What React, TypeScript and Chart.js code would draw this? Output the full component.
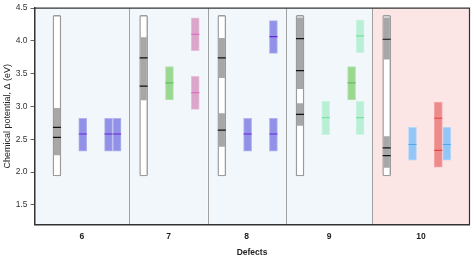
import React, { useEffect, useRef } from "react";
import { Chart, registerables } from "chart.js";

Chart.register(...registerables);

// ---------- data ----------
const defects = ["6", "7", "8", "9", "10"];
const panelFill = ["#f2f7fb", "#f2f7fb", "#f2f7fb", "#f2f7fb", "#fbe5e5"];

// full range bar (white, outlined) per defect
const rangeLow = [1.94, 1.94, 1.94, 1.94, 1.94];
const rangeHigh = [4.39, 4.39, 4.39, 4.39, 4.39];

// gray bands inside the range bar
const bandPanel = [0, 1, 2, 2, 3, 3, 4, 4];
const bandLow = [2.26, 3.1, 3.44, 2.39, 3.27, 2.71, 3.72, 2.07];
const bandHigh = [2.97, 4.05, 4.04, 2.89, 4.35, 3.045, 4.35, 2.54];

// black levels inside the range bar
const levelPanel = [0, 0, 1, 1, 2, 2, 3, 3, 3, 4, 4, 4];
const levelValue = [2.68, 2.53, 3.74, 3.31, 3.74, 2.64, 4.035, 3.545, 2.88, 4.025, 2.37, 2.25];

// coloured bars
const barPanel = [0, 0, 0, 1, 1, 1, 2, 2, 2, 3, 3, 3, 3, 4, 4, 4];
const barColumn = [1, 2, 2, 1, 2, 2, 1, 2, 2, 1, 2, 2, 2, 1, 2, 2];
const barShift = [0, 0, 1, 0, 0, 0, 0, 0, 0, 0, 0, 1, 1, 0, 0, 1];
const barLow = [2.32, 2.32, 2.32, 3.1, 3.85, 2.955, 2.32, 3.81, 2.32, 2.57, 3.1, 3.82, 2.57, 2.18, 2.075, 2.18];
const barHigh = [2.82, 2.82, 2.82, 3.61, 4.35, 3.46, 2.82, 4.31, 2.82, 3.08, 3.61, 4.32, 3.08, 2.68, 3.065, 2.68];
const barMarks = [
  [2.58], [2.58], [2.58],
  [3.36], [4.1], [3.21],
  [2.58], [4.065], [2.58],
  [2.83], [3.36], [4.075], [2.83],
  [2.42], [2.82, 2.33], [2.42],
];
const barKind = ["blue", "blue", "blue", "green", "pink", "pink", "blue", "blue", "blue", "mint", "green", "mint", "mint", "sky", "red", "sky"];

const yTicks = [1.5, 2.0, 2.5, 3.0, 3.5, 4.0, 4.5];
const Y_MIN = 1.2;
const Y_MAX = 4.5;

// ---------- styles / layout ----------
const palette: Record<string, { fill: string; edge: string; mark: string }> = {
  blue: { fill: "#9191e7", edge: "#b3b3ef", mark: "#6a25d9" },
  green: { fill: "#9ad891", edge: "#b6e4ae", mark: "#68c05c" },
  pink: { fill: "#dba6c9", edge: "#e6c0d9", mark: "#d970c4" },
  mint: { fill: "#b8efd5", edge: "#cdf3e2", mark: "#7be2a3" },
  sky: { fill: "#93c5f7", edge: "#b4d7f8", mark: "#55a6ea" },
  red: { fill: "#ee8a8a", edge: "#f2a6a6", mark: "#e8423f" },
};

const PAD_L = 0.32;
const PAD_R = 0.4;
const MARGIN_L = 0.55;
const MARGIN_R = 0.48;
const SHIFT = 0.33;

const panelHasShift = defects.map((_, p) => barPanel.some((bp, i) => bp === p && barShift[i] === 1));
const panelWidth = panelHasShift.map((s) => MARGIN_L + 2 + (s ? SHIFT : 0) + MARGIN_R);
const panelStart: number[] = [];
let acc = PAD_L;
panelWidth.forEach((w) => {
  panelStart.push(acc);
  acc += w;
});
const X_MAX = acc + PAD_R;
const panelRect = defects.map((_, p) => [
  p === 0 ? 0 : panelStart[p],
  p === defects.length - 1 ? X_MAX : panelStart[p] + panelWidth[p],
]);
const panelCenter = panelRect.map(([a, b]) => (a + b) / 2);
const colX = (p: number, col: number, shift: number) => panelStart[p] + MARGIN_L + col + shift * SHIFT;

const FONT = "'Liberation Sans', Arial, Helvetica, sans-serif";

const panelPlugin = {
  id: "panels",
  beforeDraw(chart: any) {
    const { ctx, chartArea: a, scales } = chart;
    const x = scales.x;
    ctx.save();
    panelRect.forEach(([s, e], p) => {
      const l = x.getPixelForValue(s);
      const r = x.getPixelForValue(e);
      ctx.fillStyle = panelFill[p];
      ctx.fillRect(l, a.top, r - l, a.bottom - a.top);
    });
    ctx.strokeStyle = "#a0a0a0";
    ctx.lineWidth = 1;
    for (let p = 1; p < panelRect.length; p++) {
      const xx = Math.round(x.getPixelForValue(panelRect[p][0])) + 0.5;
      ctx.beginPath();
      ctx.moveTo(xx, a.top);
      ctx.lineTo(xx, a.bottom);
      ctx.stroke();
    }
    ctx.restore();
  },
  afterDraw(chart: any) {
    const { ctx, chartArea: a } = chart;
    ctx.save();
    ctx.strokeStyle = "#333";
    ctx.lineWidth = 1.2;
    ctx.beginPath();
    ctx.moveTo(a.left, a.top);
    ctx.lineTo(a.right, a.top);
    ctx.lineTo(a.right, a.bottom);
    ctx.stroke();
    ctx.restore();
  },
};

export default function App() {
  const ref = useRef<HTMLCanvasElement | null>(null);

  useEffect(() => {
    if (!ref.current) return;
    Chart.defaults.font.family = FONT;

    const rangeData = defects.map((_, p) => ({ x: colX(p, 0, 0), y: [rangeLow[p], rangeHigh[p]] }));
    const bandData = bandPanel.map((p, i) => ({ x: colX(p, 0, 0), y: [bandLow[i], bandHigh[i]] }));
    const levelData = levelPanel.map((p, i) => ({ x: colX(p, 0, 0), y: levelValue[i] }));
    const barData = barPanel.map((p, i) => ({ x: colX(p, barColumn[i], barShift[i]), y: [barLow[i], barHigh[i]] }));
    const markData: { x: number; y: number }[] = [];
    const markColor: string[] = [];
    barMarks.forEach((ms, i) => {
      ms.forEach((m) => {
        markData.push({ x: colX(barPanel[i], barColumn[i], barShift[i]), y: m });
        markColor.push(palette[barKind[i]].mark);
      });
    });

    const chart = new Chart(ref.current, {
      type: "bar",
      data: {
        datasets: [
          {
            type: "scatter",
            data: levelData,
            order: 0,
            pointStyle: "line",
            pointRadius: 4,
            pointHoverRadius: 4,
            pointBorderWidth: 1.2,
            borderColor: "#111",
            pointBorderColor: "#111",
          } as any,
          {
            type: "scatter",
            data: markData,
            order: 0,
            pointStyle: "line",
            pointRadius: 4,
            pointHoverRadius: 4,
            pointBorderWidth: 1.2,
            borderColor: markColor,
            pointBorderColor: markColor,
          } as any,
          {
            type: "bar",
            data: bandData,
            order: 2,
            grouped: false,
            barThickness: 5.6,
            backgroundColor: "#a7a7a7",
            borderWidth: 0,
          } as any,
          {
            type: "bar",
            data: barData,
            order: 2,
            grouped: false,
            barThickness: 8,
            backgroundColor: barKind.map((k) => palette[k].fill),
            borderColor: barKind.map((k) => palette[k].edge),
            borderWidth: 1,
            borderSkipped: false,
          } as any,
          {
            type: "bar",
            data: rangeData,
            order: 3,
            grouped: false,
            barThickness: 8,
            backgroundColor: "#ffffff",
            borderColor: "#9b9b9b",
            borderWidth: 1.4,
            borderRadius: 1.5,
            borderSkipped: false,
          } as any,
        ],
      },
      options: {
        responsive: false,
        animation: false,
        events: [],
        layout: { padding: { top: 7, right: 6.5, left: 0, bottom: 0 } },
        plugins: { legend: { display: false }, tooltip: { enabled: false } },
        scales: {
          x: {
            type: "linear",
            min: 0,
            max: X_MAX,
            offset: false,
            afterBuildTicks: (s: any) => {
              s.ticks = panelCenter.map((v) => ({ value: v }));
            },
            afterFit: (s: any) => {
              s.height = 36.5;
            },
            ticks: {
              autoSkip: false,
              maxRotation: 0,
              padding: 7.5,
              color: "#222",
              font: { size: 8.5, weight: "bold" },
              callback: (_v: any, i: number) => defects[i],
            },
            grid: { display: false, drawTicks: false },
            border: { display: true, color: "#333", width: 1.5 },
            title: {
              display: true,
              text: "Defects",
              color: "#222",
              font: { size: 8.5, weight: "bold" },
              padding: { top: 0, bottom: 3.5 },
            },
          },
          y: {
            type: "linear",
            min: Y_MIN,
            max: Y_MAX,
            afterBuildTicks: (s: any) => {
              s.ticks = yTicks.map((v) => ({ value: v }));
            },
            afterFit: (s: any) => {
              s.width = 34.5;
            },
            ticks: {
              padding: 3,
              color: "#333",
              font: { size: 8.5 },
              callback: (v: any) => Number(v).toFixed(1),
            },
            grid: { drawOnChartArea: false, drawTicks: true, tickLength: 4, color: "#666" },
            border: { display: true, color: "#333", width: 1.5 },
            title: {
              display: true,
              text: "Chemical potential, Δ (eV)",
              color: "#222",
              font: { size: 9 },
              padding: { top: 2.5, bottom: 0 },
            },
          },
        },
      } as any,
      plugins: [panelPlugin],
    });

    return () => chart.destroy();
  }, []);

  return (
    <div style={{ position: "fixed", left: 0, top: 0, width: 476, height: 261, background: "#fff" }}>
      <canvas ref={ref} width={476} height={261} style={{ display: "block", width: 476, height: 261 }} />
    </div>
  );
}
